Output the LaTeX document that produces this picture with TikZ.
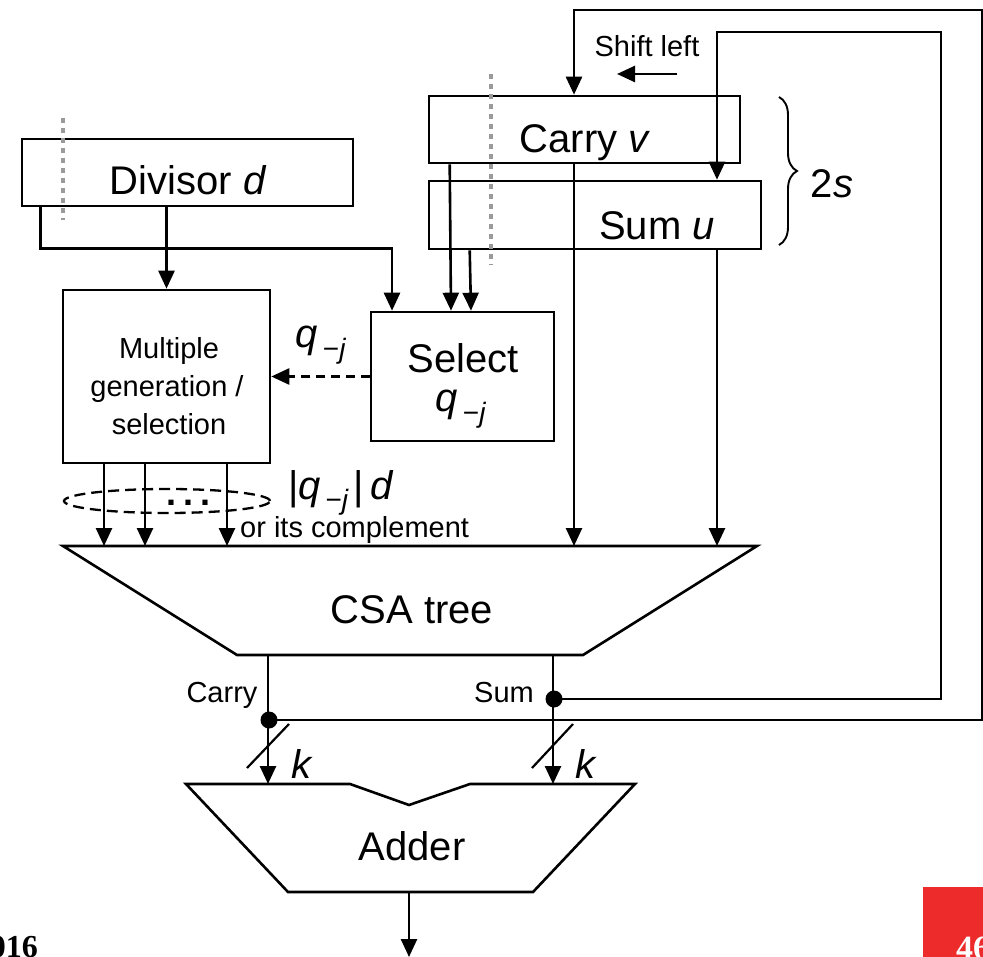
\documentclass[tikz,border=0pt]{standalone}
\usepackage{fontspec}
\setmainfont{Liberation Sans}
\newfontfamily\serifb{Liberation Serif}
\usetikzlibrary{arrows.meta,decorations.pathreplacing,shapes.geometric}
\definecolor{slidered}{HTML}{EE2B2B}
\definecolor{dotgray}{HTML}{9A9A9A}
\newcommand\qmj{\textit{q}\kern0.12em\raisebox{-0.27em}{\scalebox{0.7}{−\textit{j}}}}
\tikzset{
  ln/.style={line width=2.6pt},
  arr/.style={ln,-{Triangle[width=16pt,length=18pt]}},
  boxs/.style={draw,ln,rectangle,inner sep=0pt},
  big/.style={font=\fontsize{40}{48}\selectfont,inner sep=0pt},
  mid/.style={font=\fontsize{29}{35}\selectfont,inner sep=0pt},
  grayline/.style={draw=dotgray,line width=4pt,dash pattern=on 5pt off 5pt},
  jdot/.style={circle,fill,inner sep=0pt,minimum size=17pt},
  slash/.style={line width=2.2pt}
}
\begin{document}
\begin{tikzpicture}[x=1pt,y=-1pt]
\useasboundingbox (0,0) rectangle (983,957);
\clip (0,0) rectangle (983,957);

% registers and blocks
\node[boxs,minimum width=331pt,minimum height=67pt] (div) at (187.5,172.5) {};
\node[boxs,minimum width=311pt,minimum height=67pt] (car) at (584.5,129.5) {};
\node[boxs,minimum width=332pt,minimum height=68pt] (sum) at (595,215) {};
\node[boxs,minimum width=207pt,minimum height=173pt] (mul) at (166.5,376.5) {};
\node[boxs,minimum width=183pt,minimum height=129pt] (sel) at (462.5,376.5) {};

% gray dotted markers
\draw[grayline] (63,118) -- (63,220);
\draw[grayline] (491,74) -- (491,265);

% CSA tree and adder outlines
\draw[ln,line join=miter] (63,546) -- (757,546) -- (583,655) -- (237,655) -- cycle;
\draw[ln,line join=miter] (186,784) -- (350,784) -- (409,805) -- (470,784) -- (635,784) -- (533,892) -- (288,892) -- cycle;

% coordinates on the CSA / adder borders
\coordinate (m1) at (104,546);
\coordinate (m2) at (145,546);
\coordinate (m3) at (227,546);
\coordinate (cv) at (574,546);
\coordinate (su) at (717,546);
\coordinate (co) at (268,655);
\coordinate (so) at (553,655);
\coordinate (ai1) at (268,784);
\coordinate (ai2) at (553,784);
\coordinate (ao) at (409,892);
\coordinate (aend) at (409,957);

% texts
\node[big,anchor=base] (divt) at (188,195) {Divisor \textit{d}};
\node[big,anchor=base] (cart) at (585,153) {Carry \textit{v}};
\node[big,anchor=base] (sumt) at (657,240) {Sum \textit{u}};
\node[mid,anchor=base] (shift) at (647,57) {Shift left};
\node[big,anchor=base] (twos) at (832,198) {2\textit{s}};
\node[mid,anchor=base] (mt1) at (169,359) {Multiple};
\node[mid,anchor=base] (mt2) at (167,397) {generation /};
\node[mid,anchor=base] (mt3) at (169,435) {selection};
\node[big,anchor=base] (selt) at (463,373) {Select};
\node[big,anchor=base] (selq) at (461,412) {\qmj};
\node[big,anchor=base] (ql) at (321,348) {\qmj};
\node[big,anchor=base west] (qd) at (288,499) {|\qmj\kern5pt|\kern6pt\textit{d}};
\node[mid,anchor=base west] (orc) at (240,537) {or its complement};
\node[font=\bfseries\fontsize{36}{36}\selectfont,inner sep=0pt,anchor=base] (dots) at (189,505) {.\kern7pt.\kern7pt.};
\node[big,anchor=base] (csat) at (412,623) {CSA tree};
\node[big,anchor=base] (addt) at (412,860) {Adder};
\node[mid,anchor=base] (cl) at (222,702) {Carry};
\node[mid,anchor=base] (sl) at (504,702) {Sum};
\node[big,anchor=base] (k1) at (302,778) {\textit{k}};
\node[big,anchor=base] (k2) at (586,778) {\textit{k}};

% dashed ellipse
\node[ellipse,draw,line width=2.3pt,dash pattern=on 11pt off 6pt,minimum width=206pt,minimum height=24pt,inner sep=0pt] (ell) at (167,501) {};

% brace
\draw[line width=1.9pt,decorate,decoration={brace,amplitude=18pt,aspect=0.5}] (779,97) -- (779,245);

% shift arrow
\coordinate (sa1) at (677,74);
\coordinate (sa2) at (617,74);
\draw[arr] (sa1) -- (sa2);

% divisor connections
\draw[arr] (div.south -| mul.north) -- (mul.north);
\draw[arr] ([xshift=20pt]div.south west) -- ++(0,41) -| ([xshift=-70.5pt]sel.north);

% carry / sum to select
\draw[arr] ([xshift=22pt]car.south west) -- ([xshift=-11.5pt]sel.north);
\draw[arr] ([xshift=42pt]sum.south west) -- ([xshift=8.5pt]sel.north);

% carry / sum to CSA
\draw[arr] ([xshift=-10.5pt]car.south) -- (cv);
\draw[arr] ([xshift=122pt]sum.south) -- (su);

% select to multiple (dashed)
\draw[arr,dash pattern=on 9pt off 6pt] (sel.west) -- (mul.east);

% multiples to CSA
\draw[arr] ([xshift=-62.5pt]mul.south) -- (m1);
\draw[arr] ([xshift=-21.5pt]mul.south) -- (m2);
\draw[arr] ([xshift=60.5pt]mul.south) -- (m3);

% CSA to adder
\draw[arr] (co) -- (ai1);
\draw[arr] (so) -- (ai2);
\node[jdot] (d1) at (269,720) {};
\node[jdot] (d2) at (554,699) {};

% feedback loops
\draw[arr] (d1.center) -- (982,720) -- (982,10) -- (574,10) -- ([xshift=-10.5pt]car.north);
\draw[arr] (d2.center) -- (941,699) -- (941,32) -- (717,32) -- ([xshift=122pt]sum.north);

% bus width slashes
\draw[slash] (247,768) -- (289,724);
\draw[slash] (532,768) -- (573,724);

% adder output
\draw[arr] (ao) -- (aend);

% footer
\fill[slidered] (923,887) rectangle (990,960);
\node[text=white,font=\serifb\bfseries\fontsize{34}{34}\selectfont,anchor=base west,inner sep=0pt] (pg) at (956,959) {46};
\node[font=\serifb\bfseries\fontsize{32}{32}\selectfont,anchor=base east,inner sep=0pt] (yr) at (38,957) {016};
\end{tikzpicture}
\end{document}
